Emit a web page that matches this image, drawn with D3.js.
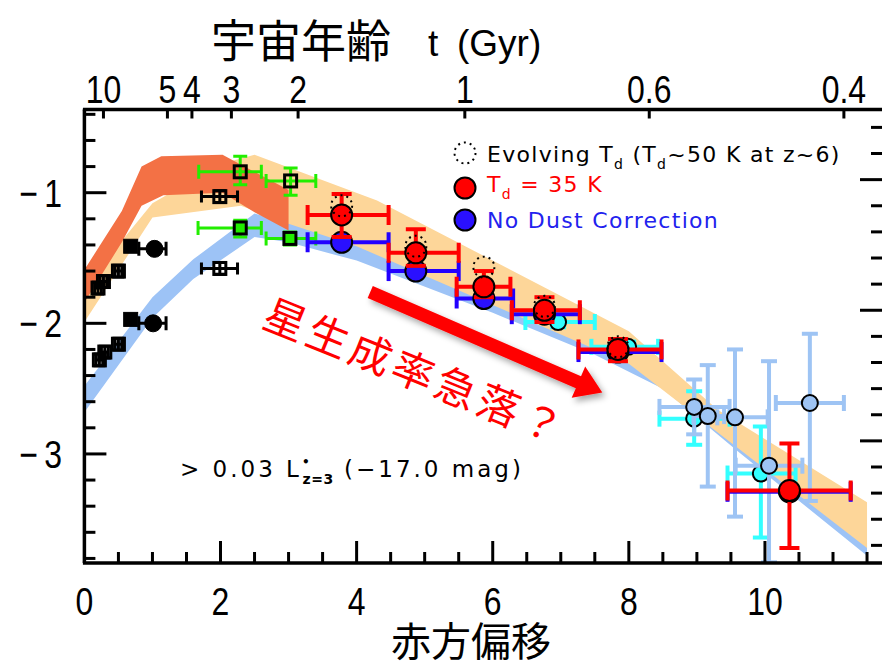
<!DOCTYPE html>
<html>
<head>
<meta charset="utf-8">
<script src="https://cdn.jsdelivr.net/npm/d3@7"></script>
<style>
  body { margin: 0; background: #fff; }
  svg { display: block; }
</style>
</head>
<body>
<svg id="chart"></svg>
<script>
// ---- data (redshift z, log SFR density) ----
const coralTop = [[0, -1.59], [0.55, -1.14], [0.84, -0.80], [1.13, -0.72], [2.03, -0.71], [3.0, -0.98]];
const coralBottom = [[0, -1.84], [0.55, -1.38], [0.84, -1.10], [1.16, -1.02], [2.03, -1.00], [2.5, -1.15], [3.0, -1.29]];
const peachTop = [[0, -1.72], [1, -1.08], [2, -0.78], [2.5, -0.71], [4.3, -1.06], [8, -2.06], [9.3, -2.66], [11.5, -3.37]];
const peachBottom = [[0, -1.99], [1, -1.19], [2.3, -1.10], [2.9, -1.22], [4, -1.41], [8, -2.31], [11.5, -3.72]];
const blueTop = [[0, -2.48], [1, -1.80], [1.6, -1.51], [2.5, -1.16], [4, -1.38], [8, -2.28], [11.5, -3.68]];
const blueBottom = [[0, -2.68], [1, -1.96], [1.6, -1.66], [2.5, -1.34], [3, -1.38], [4, -1.52], [6, -1.92], [7.5, -2.24], [8.5, -2.50], [9.6, -2.98], [11.5, -3.78]];

const blackOpenZ = [0.2, 0.28, 0.5, 1.99, 0.22, 0.3, 0.5, 1.99];
const blackOpenV = [-1.73, -1.68, -1.60, -1.03, -2.28, -2.22, -2.16, -1.58];
const blackOpenZlo = [0.15, 0.23, 0.45, 1.72, 0.17, 0.25, 0.45, 1.72];
const blackOpenZhi = [0.25, 0.33, 0.55, 2.25, 0.27, 0.35, 0.55, 2.25];
const blackFillSqZ = [0.68, 0.68];
const blackFillSqV = [-1.41, -1.97];
const blackCircZ = [1.03, 1.01];
const blackCircV = [-1.43, -2.0];
const blackCircZlo = [0.8, 0.8];
const blackCircZhi = [1.2, 1.2];

const greenOpenZ = [2.29, 3.03];
const greenOpenV = [-0.84, -0.91];
const greenOpenZlo = [1.68, 2.67];
const greenOpenZhi = [2.6, 3.4];
const greenOpenVhi = [-0.72, -0.81];
const greenOpenVlo = [-0.94, -1.02];
const greenFillZ = [2.29, 3.02];
const greenFillV = [-1.27, -1.35];
const greenFillZlo = [1.67, 2.67];
const greenFillZhi = [2.6, 3.4];
const greenFillVhi = [-1.21, -1.30];
const greenFillVlo = [-1.34, -1.40];

const redZ = [3.78, 4.87, 5.87, 6.76, 7.84, 10.36];
const redV = [-1.17, -1.46, -1.72, -1.90, -2.20, -3.28];
const redZlo = [3.28, 4.47, 5.47, 6.28, 7.26, 9.45];
const redZhi = [4.47, 5.50, 6.26, 7.28, 8.48, 11.26];
const redVhi = [-1.01, -1.28, -1.60, -1.80, -2.12, -2.92];
const redVlo = [-1.34, -1.56, -1.80, -1.99, -2.29, -3.72];

const blueZ = [3.78, 4.87, 5.87, 6.76, 7.84, 10.36];
const blueV = [-1.38, -1.60, -1.81, -1.93, -2.22, -3.29];
const blueZlo = [3.28, 4.47, 5.47, 6.28, 7.26, 9.45];
const blueZhi = [4.47, 5.50, 6.30, 7.28, 8.48, 11.26];

const evolZ = [3.78, 4.87, 5.87, 6.76, 7.84];
const evolV = [-1.10, -1.41, -1.57, -1.87, -2.18];

const cyanZ = [6.96, 7.99, 8.96, 9.94];
const cyanV = [-1.99, -2.18, -2.73, -3.15];
const cyanZlo = [6.48, 7.45, 8.45, 9.45];
const cyanZhi = [7.5, 8.43, 9.48, 10.45];
const cyanVhi = [-1.95, -2.14, -2.52, -2.79];
const cyanVlo = [-2.03, -2.22, -2.93, -3.64];

const lblueZ = [8.96, 9.16, 9.56, 10.06, 10.66];
const lblueV = [-2.64, -2.71, -2.72, -3.09, -2.61];
const lblueZlo = [8.45, 8.95, 9.3, 9.57, 10.16];
const lblueZhi = [9.48, 9.40, 10.04, 10.55, 11.16];
const lblueVhi = [-2.43, -2.32, -2.20, -2.29, -2.08];
const lblueVlo = [-2.85, -3.25, -3.48, -3.83, -3.36];

const xMajor = [0, 2, 4, 6, 8, 10];
const yMajor = [-1, -2, -3];
const yRightMajor = [-0.9, -1.9, -2.9];
const ageLabels = ["10", "5", "4", "3", "2", "1", "0.6", "0.4"];
const ageZ = [0.28, 1.22, 1.58, 2.16, 3.14, 5.59, 8.30, 11.16];

// ---- setup ----
const W = 882, H = 668;
const pLeft = 84.4, pRight = 882, pTop = 109.5, pBottom = 563;
const svg = d3.select("#chart").attr("width", W).attr("height", H);
svg.append("rect").attr("width", W).attr("height", H).attr("fill", "#fff");

const zScale = d3.scaleLinear().domain([0, 11.72]).range([pLeft, pRight]);
const vScale = d3.scaleLinear().domain([-3.835, -0.363]).range([pBottom, pTop]);

const defs = svg.append("defs");
const shadow = defs.append("filter").attr("id", "shadow")
    .attr("x", "-20%").attr("y", "-20%").attr("width", "140%").attr("height", "160%");
shadow.append("feDropShadow")
    .attr("dx", 3).attr("dy", 4).attr("stdDeviation", 3)
    .attr("flood-color", "#000").attr("flood-opacity", 0.35);
defs.append("clipPath").attr("id", "plotclip").append("rect")
    .attr("x", pLeft).attr("y", pTop).attr("width", pRight - pLeft).attr("height", pBottom - pTop);

const plot = svg.append("g").attr("clip-path", "url(#plotclip)");

// bands
const line = d3.line().x(d => zScale(d[0])).y(d => vScale(d[1]));
function band(topPts, botPts, color) {
    plot.append("path")
        .attr("d", line(topPts.concat(botPts.slice().reverse())) + "Z")
        .attr("fill", color);
}
band(blueTop, blueBottom, "#9dc3f6");
band(peachTop, peachBottom, "#fdd699");
band(coralTop, coralBottom, "#f37145");

// error bars
function errBars(zs, vs, zlo, zhi, vhi, vlo, color, width, cap) {
    const g = plot.append("g").attr("stroke", color).attr("stroke-width", width).attr("fill", "none");
    zs.forEach((z, i) => {
        const x = zScale(z), y = vScale(vs[i]);
        if (zlo) {
            const x0 = zScale(zlo[i]), x1 = zScale(zhi[i]);
            g.append("line").attr("x1", x0).attr("x2", x1).attr("y1", y).attr("y2", y);
            g.append("line").attr("x1", x0).attr("x2", x0).attr("y1", y - cap).attr("y2", y + cap);
            g.append("line").attr("x1", x1).attr("x2", x1).attr("y1", y - cap).attr("y2", y + cap);
        }
        if (vhi) {
            const y0 = vScale(vhi[i]), y1 = vScale(vlo[i]);
            g.append("line").attr("x1", x).attr("x2", x).attr("y1", y0).attr("y2", y1);
            g.append("line").attr("x1", x - cap).attr("x2", x + cap).attr("y1", y0).attr("y2", y0);
            g.append("line").attr("x1", x - cap).attr("x2", x + cap).attr("y1", y1).attr("y2", y1);
        }
    });
}
function squares(zs, vs, size, fill, stroke, sw) {
    plot.append("g").selectAll("rect").data(zs).join("rect")
        .attr("x", d => zScale(d) - size / 2)
        .attr("y", (d, i) => vScale(vs[i]) - size / 2)
        .attr("width", size).attr("height", size)
        .attr("fill", fill).attr("stroke", stroke).attr("stroke-width", sw);
}
function circles(zs, vs, r, fill, stroke, sw, dash) {
    plot.append("g").selectAll("circle").data(zs).join("circle")
        .attr("cx", d => zScale(d))
        .attr("cy", (d, i) => vScale(vs[i]))
        .attr("r", r)
        .attr("fill", fill).attr("stroke", stroke).attr("stroke-width", sw)
        .attr("stroke-dasharray", dash || null);
}

// black points (low z)
errBars(blackOpenZ, blackOpenV, blackOpenZlo, blackOpenZhi,
    blackOpenV.map(v => v + 0.045), blackOpenV.map(v => v - 0.045), "#000", 3, 6);
squares(blackOpenZ, blackOpenV, 12, "none", "#000", 3);
errBars(blackCircZ, blackCircV, blackCircZlo, blackCircZhi, null, null, "#000", 3, 7);
squares(blackFillSqZ, blackFillSqV, 14, "#000", "#000", 1);
circles(blackCircZ, blackCircV, 8.5, "#000", "#000", 1);

// green points
errBars(greenOpenZ, greenOpenV, greenOpenZlo, greenOpenZhi, greenOpenVhi, greenOpenVlo, "#22ee00", 3, 7);
squares(greenOpenZ, greenOpenV, 12, "none", "#000", 3);
errBars(greenFillZ, greenFillV, greenFillZlo, greenFillZhi, greenFillVhi, greenFillVlo, "#22ee00", 3, 7);
squares(greenFillZ, greenFillV, 12, "#22ee00", "#000", 3);

// cyan and light blue (high z)
errBars(cyanZ, cyanV, cyanZlo, cyanZhi, cyanVhi, cyanVlo, "#33ffff", 4, 8);
circles(cyanZ, cyanV, 8, "#33ffff", "#000", 2);
errBars(lblueZ, lblueV, lblueZlo, lblueZhi, lblueVhi, lblueVlo, "#9ec4f4", 4, 8);
circles(lblueZ, lblueV, 8, "#9ec4f4", "#000", 2);

// blue / red / evolving Td
errBars(blueZ, blueV, blueZlo, blueZhi, null, null, "#2200ff", 4, 10);
circles(blueZ, blueV, 10.5, "#2a10ff", "#000", 2);
errBars(redZ, redV, redZlo, redZhi, redVhi, redVlo, "#ff0000", 4, 10);
circles(redZ, redV, 10.5, "#ff0000", "#000", 2);
circles(evolZ, evolV, 10.5, "none", "#000", 2, "2,4");

// ---- axes frame ----
const axes = svg.append("g").attr("stroke", "#000").attr("fill", "none");
axes.append("line").attr("x1", pLeft).attr("x2", pLeft).attr("y1", pTop).attr("y2", pBottom).attr("stroke-width", 3.5);
axes.append("line").attr("x1", pLeft - 1.5).attr("x2", W).attr("y1", pBottom).attr("y2", pBottom).attr("stroke-width", 3.5);
axes.append("line").attr("x1", pLeft - 1.5).attr("x2", W).attr("y1", pTop).attr("y2", pTop).attr("stroke-width", 3.5);

// bottom ticks (every 0.5, long at even)
const xTicks = d3.range(0.5, 11.6, 0.5);
axes.selectAll(".xt").data(xTicks).join("line")
    .attr("x1", d => zScale(d)).attr("x2", d => zScale(d))
    .attr("y1", pBottom)
    .attr("y2", d => pBottom - (xMajor.includes(d) ? 22 : 11))
    .attr("stroke-width", 3);
// left ticks
const yTicks = d3.range(-3.8, -0.35, 0.2).map(v => Math.round(v * 10) / 10);
axes.selectAll(".yl").data(yTicks).join("line")
    .attr("x1", pLeft).attr("y1", d => vScale(d)).attr("y2", d => vScale(d))
    .attr("x2", d => pLeft + (yMajor.includes(d) ? 22 : 11))
    .attr("stroke-width", 3);
// right ticks (offset scale)
const yRight = d3.range(-3.7, -0.45, 0.2).map(v => Math.round(v * 10) / 10);
axes.selectAll(".yr").data(yRight).join("line")
    .attr("x1", W).attr("y1", d => vScale(d)).attr("y2", d => vScale(d))
    .attr("x2", d => W - (yRightMajor.includes(d) ? 22 : 11))
    .attr("stroke-width", 3);
// top ticks (cosmic age)
axes.selectAll(".at").data(ageZ).join("line")
    .attr("x1", d => zScale(d)).attr("x2", d => zScale(d))
    .attr("y1", pTop).attr("y2", pTop + 9)
    .attr("stroke-width", 3);

// tick labels (narrow sans)
const numFont = "'Liberation Sans', Arial, sans-serif";
function narrowText(x, y, txt, anchor, size, sx) {
    svg.append("g").attr("transform", `translate(${x},${y}) scale(${sx || 0.82},1)`)
        .append("text").attr("text-anchor", anchor)
        .attr("font-family", numFont).attr("font-size", size).attr("fill", "#000")
        .text(txt);
}
xMajor.forEach(d => narrowText(zScale(d), 615, String(d), "middle", 39));
yMajor.forEach(d => narrowText(62, vScale(d) + 14, "\u2212\u2009" + Math.abs(d), "end", 39));
ageLabels.forEach((d, i) => narrowText(zScale(ageZ[i]), 103, d, "middle", 39));

// axis titles
const cjk = "'Noto Sans CJK JP', 'Noto Sans CJK SC', sans-serif";
svg.append("text").attr("x", 211).attr("y", 58)
    .attr("font-family", cjk).attr("font-size", 45).attr("fill", "#000")
    .text("宇宙年齢");
const tLab = svg.append("text").attr("x", 428).attr("y", 56)
    .attr("font-family", numFont).attr("font-size", 37).attr("fill", "#000");
tLab.append("tspan").text("t");
tLab.append("tspan").attr("x", 457).text("(Gyr)");
svg.append("text").attr("x", 471).attr("y", 656).attr("text-anchor", "middle")
    .attr("font-family", cjk).attr("font-size", 40).attr("fill", "#000")
    .text("赤方偏移");

// ---- legend ----
const legFont = "'DejaVu Sans', sans-serif";
const leg = svg.append("g").attr("font-family", legFont).attr("font-size", 22).attr("letter-spacing", 1.3);
leg.append("circle").attr("cx", 465).attr("cy", 153).attr("r", 10.5)
    .attr("fill", "none").attr("stroke", "#000").attr("stroke-width", 2).attr("stroke-dasharray", "2,4");
leg.append("circle").attr("cx", 465).attr("cy", 188).attr("r", 10.5)
    .attr("fill", "#ff0000").attr("stroke", "#000").attr("stroke-width", 2);
leg.append("circle").attr("cx", 465).attr("cy", 220).attr("r", 10.5)
    .attr("fill", "#2a10ff").attr("stroke", "#000").attr("stroke-width", 2);

const t1 = leg.append("text").attr("x", 487).attr("y", 162).attr("fill", "#000");
t1.append("tspan").text("Evolving T");
t1.append("tspan").attr("font-size", 14).attr("dy", 7).text("d");
t1.append("tspan").attr("dy", -7).text(" (T");
t1.append("tspan").attr("font-size", 14).attr("dy", 7).text("d");
t1.append("tspan").attr("dy", -7).text("~50 K at z~6)");

const t2 = leg.append("text").attr("x", 487).attr("y", 192).attr("fill", "#ff0000");
t2.append("tspan").text("T");
t2.append("tspan").attr("font-size", 14).attr("dy", 7).text("d");
t2.append("tspan").attr("dy", -7).text(" = 35 K");

leg.append("text").attr("x", 487).attr("y", 228).attr("fill", "#2222ee").text("No Dust Correction");

// luminosity limit note
const note = svg.append("text").attr("x", 180).attr("y", 477)
    .attr("font-family", legFont).attr("font-size", 23).attr("letter-spacing", 3).attr("fill", "#000");
note.append("tspan").text("> 0.03 L");
note.append("tspan").attr("font-size", 12).attr("dy", -11).attr("font-weight", "bold").text("\u2022");
note.append("tspan").attr("font-size", 14).attr("dx", -10).attr("dy", 18).attr("font-weight", "bold")
    .attr("letter-spacing", 0.5).text("z=3");
note.append("tspan").attr("dy", -7).text(" (\u221217.0 mag)");

// ---- arrow and annotation ----
const arrowStart = [4.2, -1.76], arrowEnd = [7.61, -2.53];
const sx = zScale(arrowStart[0]), sy = vScale(arrowStart[1]);
const ex = zScale(arrowEnd[0]), ey = vScale(arrowEnd[1]);
const len = Math.hypot(ex - sx, ey - sy);
const ux = (ex - sx) / len, uy = (ey - sy) / len, nx = -uy, ny = ux;
const hw = 6.5, hh = 17, hl = 26;
const bx = ex - ux * hl, by = ey - uy * hl;
const arrowPts = [
    [sx + nx * hw, sy + ny * hw], [bx + nx * hw, by + ny * hw], [bx + nx * hh, by + ny * hh],
    [ex, ey],
    [bx - nx * hh, by - ny * hh], [bx - nx * hw, by - ny * hw], [sx - nx * hw, sy - ny * hw]
];
svg.append("path")
    .attr("d", d3.line()(arrowPts) + "Z")
    .attr("fill", "#ff0000")
    .attr("filter", "url(#shadow)");

const tcx = zScale(4.88), tcy = vScale(-2.35);
svg.append("text")
    .attr("transform", `translate(${tcx},${tcy}) rotate(22)`)
    .attr("text-anchor", "middle").attr("dominant-baseline", "central")
    .attr("font-family", cjk).attr("font-size", 42).attr("letter-spacing", 4)
    .attr("fill", "#ff0000")
    .text("星生成率急落？");
</script>
</body>
</html>
